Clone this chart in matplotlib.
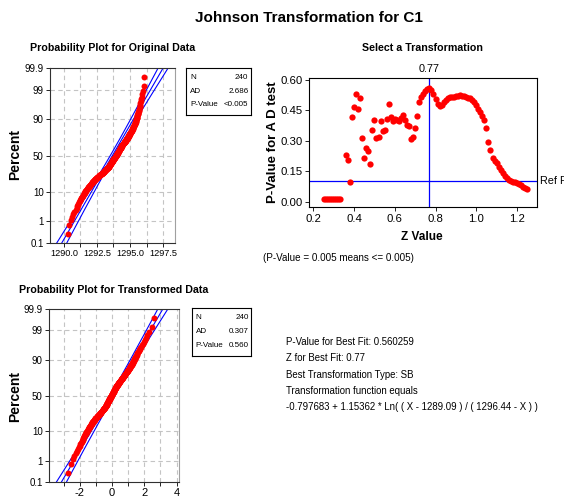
import numpy as np
import matplotlib
matplotlib.use("Agg")
import matplotlib.pyplot as plt
from matplotlib import font_manager
from statistics import NormalDist

# ---------------- data ----------------
orig_data = [
    1290.28, 1290.42, 1290.52, 1290.62, 1290.71, 1290.80, 1290.89, 1290.96, 1291.01, 1291.06,
    1291.10, 1291.15, 1291.19, 1291.23, 1291.27, 1291.31, 1291.35, 1291.39, 1291.42, 1291.46,
    1291.50, 1291.53, 1291.56, 1291.60, 1291.63, 1291.67, 1291.70,
    1291.73, 1291.76, 1291.79, 1291.82, 1291.85, 1291.88, 1291.91, 1291.94, 1291.97, 1292.00,
    1292.03, 1292.06,
    1292.09, 1292.12, 1292.16, 1292.19, 1292.22, 1292.25, 1292.28, 1292.32, 1292.35, 1292.38,
    1292.41, 1292.44,
    1292.48, 1292.51, 1292.55, 1292.58, 1292.62, 1292.65, 1292.69, 1292.73, 1292.76, 1292.80,
    1292.83, 1292.87,
    1292.90, 1292.93, 1292.95, 1292.98, 1293.00, 1293.03, 1293.05, 1293.08, 1293.10, 1293.13,
    1293.15, 1293.18, 1293.20, 1293.23, 1293.25, 1293.28, 1293.30, 1293.33, 1293.35, 1293.38,
    1293.40,
    1293.41, 1293.43, 1293.44, 1293.46, 1293.47, 1293.49, 1293.50, 1293.51, 1293.53, 1293.54,
    1293.56, 1293.57, 1293.59, 1293.60, 1293.62, 1293.63, 1293.64,
    1293.66, 1293.68, 1293.69, 1293.71, 1293.72, 1293.74, 1293.75, 1293.77, 1293.79, 1293.80,
    1293.82, 1293.83, 1293.85, 1293.86, 1293.88, 1293.90, 1293.91, 1293.93, 1293.94,
    1293.96, 1293.97, 1293.98, 1294.00, 1294.01, 1294.02, 1294.03, 1294.05, 1294.06, 1294.07,
    1294.09, 1294.10, 1294.11, 1294.12, 1294.14, 1294.15, 1294.16, 1294.18, 1294.19, 1294.20,
    1294.21, 1294.23, 1294.24, 1294.25, 1294.27, 1294.28, 1294.29, 1294.31, 1294.32, 1294.33,
    1294.35, 1294.36, 1294.38, 1294.40, 1294.42, 1294.43, 1294.45, 1294.47, 1294.49, 1294.51,
    1294.52, 1294.54, 1294.56, 1294.58, 1294.59, 1294.61, 1294.63, 1294.65, 1294.67, 1294.68,
    1294.70,
    1294.72, 1294.74, 1294.75, 1294.77, 1294.79, 1294.81, 1294.82, 1294.84, 1294.86, 1294.88,
    1294.89, 1294.91, 1294.93, 1294.95, 1294.96, 1294.98, 1295.00, 1295.02, 1295.03, 1295.05,
    1295.07, 1295.09,
    1295.10, 1295.12, 1295.14, 1295.16, 1295.17, 1295.19, 1295.21, 1295.23, 1295.24, 1295.26,
    1295.28, 1295.29, 1295.31, 1295.33,
    1295.35, 1295.36, 1295.38, 1295.39, 1295.40, 1295.42, 1295.43, 1295.45, 1295.46, 1295.48,
    1295.49, 1295.51, 1295.52, 1295.54, 1295.55,
    1295.57, 1295.59, 1295.61, 1295.63, 1295.65, 1295.67, 1295.69, 1295.72, 1295.74, 1295.76,
    1295.79, 1295.82, 1295.85, 1295.88, 1295.92, 1295.96, 1296.04, 1296.08,
]

# Johnson SB transformation reported on the chart
tr_gamma, tr_eta, tr_eps, tr_upper = -0.797683, 1.15362, 1289.09, 1296.44

# fitted normal lines (mean, stdev)
orig_fit = (1293.67, 1.24)
trans_fit = (0.01, 1.016)

z_values = [0.25, 0.26, 0.27, 0.28, 0.29, 0.30, 0.31, 0.32, 0.33,
            0.36, 0.37, 0.38, 0.39, 0.40, 0.41, 0.42, 0.43, 0.44, 0.45, 0.46, 0.47, 0.48, 0.49,
            0.50, 0.51, 0.52, 0.53, 0.54, 0.55, 0.56, 0.57, 0.58, 0.59, 0.60, 0.61, 0.62, 0.63,
            0.64, 0.65, 0.66, 0.67, 0.68, 0.69, 0.70, 0.71, 0.72, 0.73, 0.74, 0.75, 0.76, 0.77,
            0.78, 0.79, 0.80, 0.81, 0.82, 0.83, 0.84, 0.85, 0.86, 0.87, 0.88, 0.89, 0.90, 0.91,
            0.92, 0.93, 0.94, 0.95, 0.96, 0.97, 0.98, 0.99, 1.00, 1.01, 1.02, 1.03, 1.04, 1.05,
            1.06, 1.07, 1.08, 1.09, 1.10, 1.11, 1.12, 1.13, 1.14, 1.15, 1.16, 1.17, 1.18, 1.19,
            1.20, 1.21, 1.22, 1.23, 1.24, 1.25]
p_values = [0.015, 0.015, 0.015, 0.015, 0.015, 0.015, 0.015, 0.015, 0.015,
            0.229, 0.206, 0.097, 0.415, 0.464, 0.528, 0.458, 0.508, 0.315, 0.214, 0.263, 0.250,
            0.183, 0.355,
            0.401, 0.315, 0.316, 0.396, 0.350, 0.355, 0.407, 0.482, 0.415, 0.396, 0.407, 0.400,
            0.397, 0.414,
            0.424, 0.400, 0.376, 0.371, 0.309, 0.318, 0.362, 0.420, 0.492, 0.515, 0.532, 0.545,
            0.556, 0.560,
            0.550, 0.530, 0.506, 0.482, 0.469, 0.474, 0.490, 0.502, 0.510, 0.514, 0.515, 0.515,
            0.518, 0.521,
            0.525, 0.522, 0.518, 0.515, 0.512, 0.510, 0.502, 0.490, 0.475, 0.458, 0.441, 0.422,
            0.400, 0.360,
            0.295, 0.252, 0.216, 0.200, 0.190, 0.172, 0.156, 0.141, 0.127, 0.115, 0.106, 0.101,
            0.098, 0.096,
            0.092, 0.086, 0.080, 0.074, 0.068, 0.063]

best_z = 0.77
ref_p = 0.10
pct_ticks = [0.1, 1, 10, 50, 90, 99, 99.9]
pct_labels = ["0.1", "1", "10", "50", "90", "99", "99.9"]

orig_stats = [("N", "240"), ("AD", "2.686"), ("P-Value", "<0.005")]
trans_stats = [("N", "240"), ("AD", "0.307"), ("P-Value", "0.560")]

info_lines = ["P-Value for Best Fit: 0.560259",
              "Z for Best Fit: 0.77",
              "Best Transformation Type: SB",
              "Transformation function equals",
              "-0.797683 + 1.15362 * Ln( ( X - 1289.09 ) / ( 1296.44 - X ) )"]

# ---------------- fonts ----------------
names = {f.name for f in font_manager.fontManager.ttflist}
FONT = next((n for n in ["Liberation Sans Narrow", "Liberation Sans", "Arimo"]
             if n in names), "DejaVu Sans")
plt.rcParams["font.family"] = [FONT, "DejaVu Sans"]

W, H = 564, 497
fig = plt.figure(figsize=(W / 100, H / 100), dpi=100)
fig.patch.set_facecolor("white")


def rect(l, t, r, b):
    return [l / W, 1 - b / H, (r - l) / W, (b - t) / H]


def ftext(x, y, s, **kw):
    fig.text(x / W, 1 - y / H, s, **kw)


nd = NormalDist()
RED = "#ff0000"
BLUE = "#0000ff"
GRID = "#c4c4c4"


def prob_plot(r, data, fit, xlim, major, minor, xfmt, xtick_size):
    ax = fig.add_axes(r)
    xs = np.sort(np.asarray(data, dtype=float))
    n = len(xs)
    ps = (np.arange(1, n + 1) - 0.3) / (n + 0.4)
    zs = np.array([nd.inv_cdf(p) for p in ps])
    mu, sd = fit
    zz = np.linspace(-3.6, 3.6, 300)
    band = 1.96 * sd * np.sqrt((1 + zz ** 2 / 2) / n)
    for off in (-band, 0 * zz, band):
        ax.plot(mu + zz * sd + off, zz, color=BLUE, lw=0.8, zorder=2)
    ax.plot(xs, zs, "o", color=RED, ms=4.3, mew=0, zorder=3)
    zt = [nd.inv_cdf(p / 100) for p in pct_ticks]
    ax.set_ylim(zt[0], zt[-1])
    ax.set_xlim(*xlim)
    ax.set_yticks(zt)
    ax.set_yticklabels(pct_labels)
    ax.set_xticks(major)
    ax.set_xticklabels([xfmt.format(v) for v in major])
    ax.set_xticks(minor, minor=True)
    for z in zt[1:-1]:
        ax.axhline(z, color=GRID, lw=0.8, ls=(0, (4, 3)), zorder=1)
    for v in list(major) + list(minor):
        ax.axvline(v, color=GRID, lw=0.8, ls=(0, (4, 3)), zorder=1)
    ax.tick_params(axis="y", labelsize=7, length=3, width=0.6, pad=1.5)
    ax.tick_params(axis="x", labelsize=xtick_size, length=3, width=0.6, pad=1.5)
    ax.tick_params(axis="x", which="minor", length=3, width=0.6)
    for s in ("left", "bottom", "top"):
        ax.spines[s].set_color("#303030")
        ax.spines[s].set_linewidth(0.8)
    ax.spines["right"].set_color("#a0a0a0")
    ax.spines["right"].set_linewidth(0.8)
    return ax


def stats_box(l, t, r, b, rows):
    bx = fig.add_axes(rect(l, t, r, b))
    bx.set_xticks([])
    bx.set_yticks([])
    for s in bx.spines.values():
        s.set_linewidth(0.8)
        s.set_color("black")
    for i, (k, v) in enumerate(rows):
        y = 0.80 - i * 0.29
        bx.text(0.06, y, k, fontsize=5.8, va="center", ha="left", transform=bx.transAxes)
        bx.text(0.96, y, v, fontsize=5.8, va="center", ha="right", transform=bx.transAxes)


# ---------------- titles ----------------
ftext(309, 18, "Johnson Transformation for C1", fontsize=11, fontweight="bold",
      ha="center", va="center")
ftext(113, 48, "Probability Plot for Original Data", fontsize=7.7, fontweight="bold",
      ha="center", va="center")
ftext(422, 48, "Select a Transformation", fontsize=7.7, fontweight="bold",
      ha="center", va="center")
ftext(114, 290, "Probability Plot for Transformed Data", fontsize=7.7, fontweight="bold",
      ha="center", va="center")

# ---------------- original probability plot ----------------
prob_plot(rect(50, 68, 175, 243), orig_data, orig_fit, (1288.95, 1298.4),
          [1290.0, 1292.5, 1295.0, 1297.5], [1291.25, 1293.75, 1296.25], "{:.1f}", 6.6)
ftext(15, 155, "Percent", fontsize=10, fontweight="bold", rotation=90,
      ha="center", va="center")
stats_box(186, 68, 251, 115, orig_stats)

# ---------------- transformed probability plot ----------------
x = np.asarray(orig_data)
trans_data = tr_gamma + tr_eta * np.log((x - tr_eps) / (tr_upper - x))
prob_plot(rect(49, 309, 179, 482), trans_data, trans_fit, (-3.9, 4.15),
          [-2, 0, 2, 4], [-3, -1, 1, 3], "{:d}", 8)
ftext(15, 397, "Percent", fontsize=10, fontweight="bold", rotation=90,
      ha="center", va="center")
stats_box(192, 308, 251, 356, trans_stats)

# ---------------- transformation selection plot ----------------
ax = fig.add_axes(rect(309.3, 77.7, 537.3, 206.7))
ax.axhline(ref_p, color=BLUE, lw=0.9, zorder=1)
ax.axvline(best_z, color=BLUE, lw=0.9, zorder=1)
ax.plot(z_values, p_values, "o", color=RED, ms=4.5, mew=0, zorder=3)
ax.set_xlim(0.18, 1.30)
ax.set_ylim(-0.025, 0.61)
ax.set_xticks([0.2, 0.4, 0.6, 0.8, 1.0, 1.2])
ax.set_xticklabels(["0.2", "0.4", "0.6", "0.8", "1.0", "1.2"])
ax.set_yticks([0.0, 0.15, 0.30, 0.45, 0.60])
ax.set_yticklabels(["0.00", "0.15", "0.30", "0.45", "0.60"])
ax.tick_params(labelsize=8.2, length=3, width=0.6, pad=2)
for s in ax.spines.values():
    s.set_linewidth(0.8)
    s.set_color("black")
ax.text(best_z, 1.03, "0.77", transform=ax.get_xaxis_transform(), ha="center",
        va="bottom", fontsize=7.8)
ax.text(1.012, ref_p, "Ref P", transform=ax.get_yaxis_transform(), ha="left",
        va="center", fontsize=7.8, clip_on=False)
ftext(422, 237, "Z Value", fontsize=8.5, fontweight="bold", ha="center", va="center")
ftext(273, 142, "P-Value for A D test", fontsize=9.5, fontweight="bold", rotation=90,
      ha="center", va="center")
ftext(263, 258, "(P-Value = 0.005 means <= 0.005)", fontsize=7.1, ha="left", va="center")

# ---------------- info text ----------------
for i, line in enumerate(info_lines):
    ftext(286, 341.7 + i * 16.4, line, fontsize=6.9, ha="left", va="center")

fig.savefig("out.png", dpi=100)
